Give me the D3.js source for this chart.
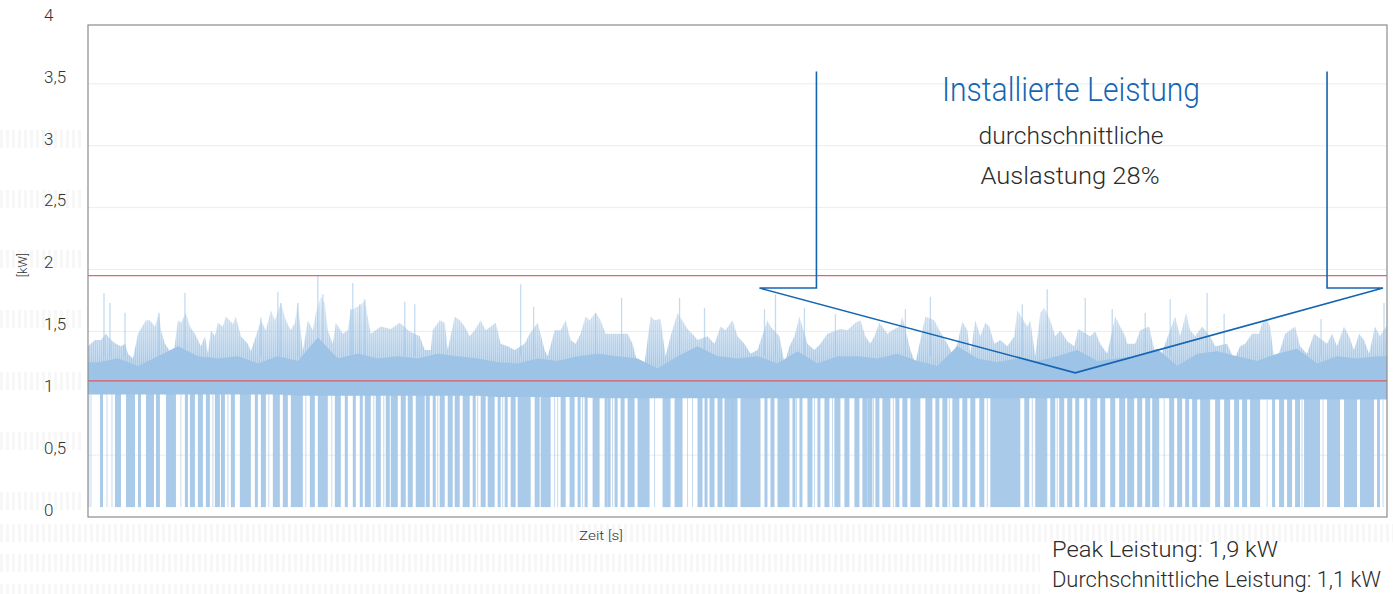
<!DOCTYPE html>
<html>
<head>
<meta charset="utf-8">
<script src="https://cdn.jsdelivr.net/npm/d3@7"></script>
<style>
	body { margin: 0; background: #fff; }
	text { font-family: Roboto, "Liberation Sans", sans-serif; font-weight: 300; }
</style>
</head>
<body>
<div class="chart"></div>
<script>
/*
----------------------------------------------------------
                   data
----------------------------------------------------------
*/
// time axis: measuring points 0..1300
var zeitDomain = [0, 1300];
var yTicks = [0, 0.5, 1, 1.5, 2, 2.5, 3, 3.5, 4];

// upper envelope of the spikes [point, kW]
var spitze = [
	[0,1.38],[7,1.43],[13,1.43],[18,1.48],[23,1.43],[28,1.40],[33,1.38],[37,1.40],[40,1.32],[45,1.28],[50,1.48],[52,1.51],
	[58,1.59],[62,1.59],[63,1.58],[67,1.54],[71,1.65],[73,1.51],[77,1.40],[83,1.33],[85,1.27],[90,1.59],[93,1.57],[98,1.65],
	[102,1.54],[107,1.48],[110,1.43],[113,1.38],[117,1.46],[120,1.32],[123,1.51],[127,1.46],[130,1.57],[135,1.54],[138,1.62],
	[145,1.56],[148,1.62],[153,1.46],[160,1.40],[163,1.34],[168,1.46],[173,1.59],[178,1.51],[183,1.67],[187,1.59],[193,1.73],
	[198,1.59],[203,1.51],[207,1.57],[210,1.73],[215,1.34],[220,1.59],[225,1.51],[228,1.65],[233,1.78],[237,1.73],[240,1.51],
	[245,1.40],[248,1.57],[255,1.48],[260,1.51],
	[263,1.67],[272,1.71],[277,1.75],[283,1.48],[293,1.54],[303,1.52],[312,1.57],[322,1.50],[332,1.46],[337,1.35],[343,1.35],
	[345,1.51],[352,1.59],[357,1.57],[360,1.35],[367,1.62],[372,1.59],[377,1.54],[382,1.46],[387,1.51],[393,1.59],[398,1.51],
	[405,1.55],[408,1.57],[413,1.40],[420,1.38],[427,1.35],[437,1.40],[442,1.48],[450,1.57],[457,1.35],[460,1.30],[467,1.51],
	[473,1.51],[478,1.59],[483,1.43],[488,1.40],[493,1.48],[498,1.62],[502,1.59],[508,1.65],[513,1.59],[518,1.48],
	[520,1.48],[528,1.48],[540,1.48],[545,1.40],[550,1.24],[557,1.24],[563,1.62],[567,1.59],[573,1.60],[578,1.30],[583,1.46],
	[590,1.65],[600,1.52],[607,1.46],[610,1.43],[620,1.46],[627,1.40],[633,1.54],[638,1.51],[645,1.59],[650,1.46],[657,1.40],
	[663,1.32],[670,1.35],[680,1.59],[683,1.54],[692,1.46],[697,1.24],[702,1.38],[707,1.46],[712,1.62],[720,1.40],[727,1.35],
	[733,1.40],[740,1.48],[753,1.52],[760,1.51],[768,1.57],[773,1.59],[778,1.46],
	[783,1.40],[787,1.46],[792,1.57],[800,1.48],[805,1.51],[812,1.54],[815,1.62],[823,1.35],[828,1.24],[833,1.43],[838,1.62],
	[847,1.59],[852,1.51],[860,1.40],[865,1.32],[870,1.40],[875,1.58],[880,1.51],[883,1.32],[888,1.59],[893,1.46],[898,1.57],
	[902,1.54],[907,1.40],[913,1.43],[920,1.38],[927,1.46],[930,1.67],[940,1.54],[943,1.59],[948,1.30],[953,1.65],[957,1.69],
	[963,1.59],[968,1.46],[973,1.51],[980,1.42],[987,1.38],[991,1.52],[1003,1.46],[1008,1.50],[1013,1.40],[1020,1.32],
	[1028,1.62],[1033,1.54],[1038,1.46],
	[1040,1.40],[1048,1.40],[1053,1.51],[1062,1.54],[1067,1.35],[1072,1.24],[1077,1.38],[1088,1.62],[1093,1.46],[1099,1.65],
	[1103,1.51],[1108,1.46],[1115,1.54],[1123,1.46],[1128,1.38],[1140,1.40],[1147,1.27],[1153,1.38],[1158,1.40],[1165,1.48],
	[1172,1.48],[1175,1.57],[1180,1.59],[1183,1.54],[1188,1.22],[1193,1.35],[1198,1.48],[1203,1.51],[1208,1.54],[1213,1.38],
	[1220,1.32],[1227,1.48],[1240,1.40],[1245,1.48],[1250,1.38],[1257,1.54],[1262,1.46],[1267,1.35],[1272,1.48],[1277,1.43],
	[1282,1.32],[1288,1.54],[1293,1.46],[1300,1.55]
];

// top of the dense (solid) band, one value per 20 points
var kern = [
	1.25,1.28,1.22,1.30,1.38,1.30,1.28,1.30,1.24,1.30,1.26,1.45,1.28,
	1.32,1.28,1.30,1.28,1.32,1.30,1.28,1.25,1.24,1.28,1.26,1.30,1.32,
	1.30,1.28,1.20,1.30,1.38,1.30,1.28,1.30,1.24,1.34,1.24,1.30,1.30,
	1.28,1.32,1.26,1.22,1.38,1.28,1.25,1.28,1.26,1.30,1.35,1.26,1.28,
	1.30,1.36,1.22,1.32,1.34,1.30,1.26,1.32,1.36,1.24,1.30,1.28,1.30
];

// lower edge of the band, one value per 100 points
var sockel = [0.99,0.99,0.98,0.98,0.97,0.96,0.96,0.96,0.96,0.96,0.96,0.95,0.95,0.95];

// single tall needles [point, kW]
var nadeln = [
	[16,1.81],[22,1.73],[37,1.65],[71,1.65],[97,1.81],[173,1.61],[190,1.82],[193,1.73],[210,1.73],[230,1.95],[235,1.80],
	[263,1.68],[265,1.89],[272,1.72],[277,1.76],[317,1.74],[327,1.72],[433,1.88],[446,1.70],[508,1.65],
	[534,1.77],[592,1.77],[617,1.69],[677,1.68],[688,1.80],[717,1.69],[748,1.64],
	[818,1.68],[843,1.78],[935,1.72],[960,1.84],[998,1.77],[1025,1.68],
	[1058,1.65],[1083,1.76],[1120,1.81],[1137,1.64],[1234,1.60],[1297,1.73]
];

// drop-outs to ~0.08 kW [from, to]
var einbrueche = [
	[12,15],[27,33],[38,47],[50,53],[58,66],[68,72],[78,88],[97,100],[102,107],[110,115],[118,122],[127,132],[133,137],
	[143,147],[152,163],[167,170],[173,178],[185,192],[195,200],[203,215],[222,227],[230,240],[247,253],[257,260],
	[265,268],[272,275],[277,283],[288,293],[298,302],[303,310],[313,318],[320,325],[328,337],[338,342],[345,348],
	[352,357],[360,365],[367,372],[375,382],[385,388],[393,398],[400,407],[410,413],[417,420],[423,428],[430,443],
	[447,452],[453,463],[473,478],[482,487],[490,493],[497,500],[505,512],[517,520],
	[520,523],[527,530],[533,537],[540,547],[550,562],[575,583],[587,595],[610,615],[617,620],[622,627],[630,635],
	[637,650],[653,673],[677,680],[683,687],[690,702],[705,708],[712,715],[720,725],[730,733],[737,742],[747,753],
	[757,762],[767,772],[775,780],
	[780,785],[788,792],[795,803],[808,812],[815,820],[823,833],[838,845],[848,852],[855,860],[865,872],[875,880],
	[883,888],[892,897],[903,933],[937,942],[948,960],[963,968],[972,977],[980,985],[988,992],[997,1000],[1003,1010],
	[1013,1018],[1023,1028],[1032,1038],
	[1040,1047],[1050,1055],[1058,1063],[1065,1072],[1082,1087],[1090,1095],[1098,1102],[1105,1110],[1113,1123],
	[1128,1133],[1137,1143],[1147,1152],[1155,1160],[1163,1173],[1185,1188],[1192,1197],[1200,1205],[1208,1213],
	[1217,1233],[1240,1253],[1257,1270],[1273,1287],[1290,1293]
];
// thin single drop-outs
var einzeln = [1,3,19,24,93,125,140,181,218,244,286,296,350,390,415,467,470,495,525,567,600,605,645,709,727,745,786,806,862,900,945,970,1077,1180,1215,1236,1296];
var tiefwert = 0.08;

// red reference lines: peak and average
var referenz = [1.95, 1.1];

// annotation arrow [point, kW]
var pfeil = [[729,3.6],[729,1.85],[672,1.85],[988,1.165],[1296,1.85],[1240,1.85],[1240,3.6]];

/*
----------------------------------------------------------
                   the chart
----------------------------------------------------------
*/
var width = 1393, height = 594;
var blau = "#9dc3e6";

var svg = d3.select(".chart").append("svg")
	.attr("width", width)
	.attr("height", height);

var x = d3.scaleLinear().domain(zeitDomain).range([88, 1387]);
var y = d3.scaleLinear().domain([0, 4]).range([517, 22]);

var defs = svg.append("defs");

// faint striped background
defs.append("pattern")
	.attr("id", "streifen")
	.attr("width", 6).attr("height", 6)
	.attr("patternUnits", "userSpaceOnUse")
	.append("rect").attr("width", 3).attr("height", 6).attr("fill", "#f7f7f7");
[[0, 130, 84, 18], [0, 190, 84, 18], [0, 250, 84, 18], [0, 310, 84, 18], [0, 372, 84, 18], [0, 432, 84, 18], [0, 492, 84, 18],
 [0, 524, 1393, 18], [0, 554, 1040, 18], [0, 584, 1040, 10]].forEach(function(r) {
	svg.append("rect").attr("x", r[0]).attr("y", r[1]).attr("width", r[2]).attr("height", r[3])
		.attr("fill", "url(#streifen)");
});

// spikes get thinner towards the top
var verlauf = defs.append("linearGradient")
	.attr("id", "verlauf")
	.attr("gradientUnits", "userSpaceOnUse")
	.attr("x1", 0).attr("x2", 0)
	.attr("y1", y(1.25)).attr("y2", y(1.8));
verlauf.append("stop").attr("offset", 0).attr("stop-color", blau).attr("stop-opacity", 0.9);
verlauf.append("stop").attr("offset", 1).attr("stop-color", blau).attr("stop-opacity", 0.35);

// streaky texture for the spike area
var raster = defs.append("pattern")
	.attr("id", "raster")
	.attr("width", 2).attr("height", 10)
	.attr("patternUnits", "userSpaceOnUse");
raster.append("rect").attr("width", 2).attr("height", 10).attr("fill", "#fff");
raster.append("rect").attr("width", 1).attr("height", 10).attr("fill", "#b0b0b0");
defs.append("mask")
	.attr("id", "textur")
	.attr("maskUnits", "userSpaceOnUse")
	.attr("x", 0).attr("y", 0).attr("width", width).attr("height", height)
	.append("rect").attr("width", width).attr("height", height).attr("fill", "url(#raster)");

// plot background and grid
svg.append("rect")
	.attr("x", x(0)).attr("y", 25)
	.attr("width", x(1300) - x(0)).attr("height", y(0) - 25)
	.attr("fill", "#fff");

svg.append("g").selectAll("line").data(yTicks.slice(1, -1)).enter()
	.append("line")
		.attr("x1", x(0)).attr("x2", x(1300))
		.attr("y1", function(d) { return y(d); })
		.attr("y2", function(d) { return y(d); })
		.attr("stroke", "#ececec")
		.attr("stroke-width", 1);

var plot = svg.append("g");

function sockelAt(t) {
	return sockel[Math.min(sockel.length - 1, Math.floor(t / 100))];
}

// drop-outs
plot.selectAll(".drop").data(einbrueche).enter()
	.append("rect")
		.attr("class", "drop")
		.attr("x", function(d) { return x(d[0]); })
		.attr("width", function(d) { return Math.max(1, x(d[1]) - x(d[0])); })
		.attr("y", function(d) { return y(sockelAt(d[0]) + 0.02); })
		.attr("height", function(d) { return y(tiefwert) - y(sockelAt(d[0]) + 0.02); })
		.attr("fill", blau)
		.attr("opacity", 0.88);

plot.selectAll(".thin").data(einzeln).enter()
	.append("line")
		.attr("class", "thin")
		.attr("x1", function(d) { return x(d); })
		.attr("x2", function(d) { return x(d); })
		.attr("y1", function(d) { return y(sockelAt(d)); })
		.attr("y2", y(tiefwert))
		.attr("stroke", blau)
		.attr("stroke-width", 1)
		.attr("opacity", 0.6);

// spike envelope
var spitzeAreal = d3.area()
	.x(function(d) { return x(d[0]); })
	.y0(y(1.05))
	.y1(function(d) { return y(d[1]); });
plot.append("path")
	.attr("d", spitzeAreal(spitze))
	.attr("fill", "url(#verlauf)")
	.attr("mask", "url(#textur)");

// needles
plot.selectAll(".needle").data(nadeln).enter()
	.append("line")
		.attr("class", "needle")
		.attr("x1", function(d) { return x(d[0]); })
		.attr("x2", function(d) { return x(d[0]); })
		.attr("y1", y(1.3))
		.attr("y2", function(d) { return y(d[1]); })
		.attr("stroke", blau)
		.attr("stroke-width", 1.3)
		.attr("opacity", 0.6);

// dense band
var sockelAreal = d3.area()
	.x(function(d) { return x(d.t); })
	.y0(function(d) { return y(sockelAt(d.t)); })
	.y1(function(d) { return y(d.v); });
var kernPunkte = [{t: 0, v: kern[0]}];
kern.forEach(function(v, i) { kernPunkte.push({t: i * 20 + 10, v: v}); });
kernPunkte.push({t: 1300, v: kern[kern.length - 1]});
plot.append("path")
	.attr("d", sockelAreal(kernPunkte))
	.attr("fill", blau);

// reference lines
svg.append("g").selectAll("line").data(referenz).enter()
	.append("line")
		.attr("x1", x(0)).attr("x2", x(1300))
		.attr("y1", function(d) { return y(d); })
		.attr("y2", function(d) { return y(d); })
		.attr("stroke", "#e8474c")
		.attr("stroke-width", 1.3)
		.attr("opacity", 0.85);

// frame
svg.append("rect")
	.attr("x", x(0)).attr("y", 25)
	.attr("width", x(1300) - x(0)).attr("height", y(0) - 25)
	.attr("fill", "none")
	.attr("stroke", "#8c8c8c")
	.attr("stroke-width", 1.2);

// y axis labels
var yAxis = d3.axisLeft(y)
	.tickValues(yTicks)
	.tickSize(0)
	.tickFormat(function(d) { return String(d).replace(".", ","); });
var yg = svg.append("g").attr("transform", "translate(44,0)").call(yAxis);
yg.select(".domain").remove();
yg.selectAll("text")
	.attr("text-anchor", "start")
	.attr("x", 0)
	.attr("dy", "-0.1em")
	.attr("fill", "#333")
	.style("font-size", "17px")
	.style("font-family", "Roboto, sans-serif")
	.style("font-weight", 300);

svg.append("text")
	.attr("transform", "translate(27,265) rotate(-90)")
	.attr("text-anchor", "middle")
	.attr("fill", "#333")
	.style("font-size", "13px")
	.text("[kW]");

svg.append("text")
	.attr("x", 601).attr("y", 540)
	.attr("text-anchor", "middle")
	.attr("fill", "#333")
	.style("font-size", "13px")
	.attr("textLength", 44).attr("lengthAdjust", "spacingAndGlyphs")
	.text("Zeit [s]");

// annotation
var pfeilLinie = d3.line()
	.x(function(d) { return x(d[0]); })
	.y(function(d) { return y(d[1]); });
svg.append("path")
	.attr("d", pfeilLinie(pfeil))
	.attr("fill", "none")
	.attr("stroke", "#1565b3")
	.attr("stroke-width", 1.6);

function label(tx, ty, size, len, color, str, anchor) {
	svg.append("text")
		.attr("x", tx).attr("y", ty)
		.attr("text-anchor", anchor || "middle")
		.attr("fill", color)
		.style("font-size", size + "px")
		.attr("textLength", len).attr("lengthAdjust", "spacingAndGlyphs")
		.text(str);
}
label(1071, 101, 34, 258, "#1466b3", "Installierte Leistung");
label(1071, 144, 24, 185, "#2b2b2b", "durchschnittliche");
label(1070, 184, 24, 179, "#2b2b2b", "Auslastung 28%");
label(1052, 557, 22, 226, "#2b2b2b", "Peak Leistung: 1,9 kW", "start");
label(1052, 587, 22, 329, "#2b2b2b", "Durchschnittliche Leistung: 1,1 kW", "start");
</script>
</body>
</html>
